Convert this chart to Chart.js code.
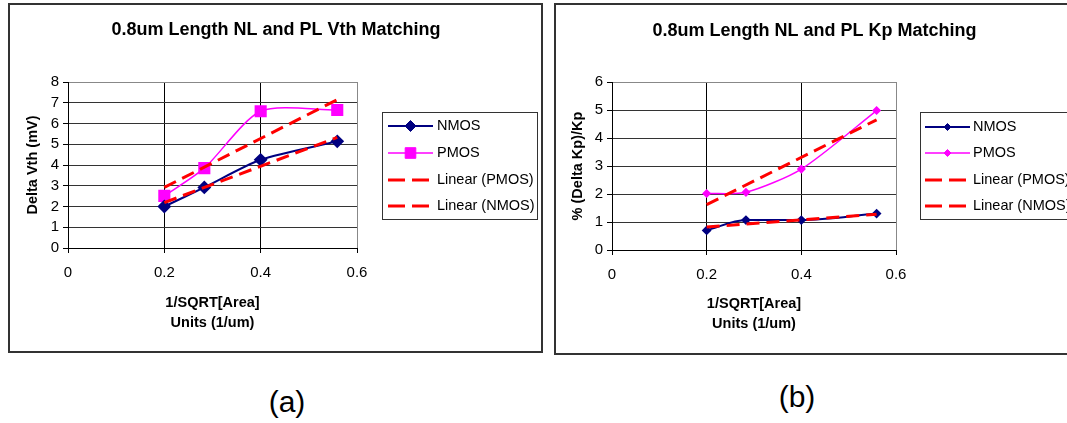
<!DOCTYPE html>
<html>
<head>
<meta charset="utf-8">
<script src="https://cdn.jsdelivr.net/npm/chart.js@4.4.1/dist/chart.umd.min.js"></script>
<style>
  body { margin: 0; width: 1067px; height: 423px; overflow: hidden; background: #fff; position: relative; }
  canvas { position: absolute; top: 0; }
  .cap { position: absolute; width: 80px; text-align: center; font: 30px "Liberation Sans", Arial, sans-serif; line-height: 40px; color: #000; }
</style>
</head>
<body>
<canvas id="chartA" width="548" height="360" style="left:0px"></canvas>
<canvas id="chartB" width="519" height="360" style="left:548px"></canvas>
<div class="cap" style="left:247px; top:382px">(a)</div>
<div class="cap" style="left:757px; top:377px">(b)</div>
<script>
// x = 1/sqrt(area) of the four device sizes
var xArea = [0.2, 0.283, 0.4, 0.559];
var trendX = [0.2, 0.559];

// (a) Vth matching, mV
var vthNmos = [2.0, 2.92, 4.25, 5.14];
var vthPmos = [2.51, 3.85, 6.59, 6.65];
var vthPmosFit = [2.92, 7.15];
var vthNmosFit = [2.19, 5.33];

// (b) Kp matching, %
var kpNmos = [0.70, 1.07, 1.07, 1.30];
var kpPmos = [2.02, 2.06, 2.89, 4.98];
var kpPmosFit = [1.62, 4.65];
var kpNmosFit = [0.82, 1.28];

var seriesLabels = ['NMOS', 'PMOS', 'Linear (PMOS)', 'Linear (NMOS)'];
var xTicks = [0, 0.2, 0.4, 0.6];

Chart.defaults.font.family = '"Liberation Sans", Arial, sans-serif';
Chart.defaults.color = '#000';

function pts(xs, ys) {
    return xs.map(function(x, i) { return { x: x, y: ys[i] }; });
}

var panelBox = {
    id: 'panelBox',
    beforeDraw: function(chart, args, opts) {
        var ctx = chart.ctx;
        ctx.save();
        ctx.fillStyle = '#fff';
        ctx.fillRect(0, 0, chart.width, chart.height);
        ctx.strokeStyle = '#333';
        ctx.lineWidth = 2;
        ctx.strokeRect(opts.left, opts.top, opts.width, opts.height);
        ctx.restore();
    }
};

// legend drawn by hand: line sample with marker in the middle, boxed
var boxLegend = {
    id: 'boxLegend',
    afterDraw: function(chart, args, opts) {
        var ctx = chart.ctx;
        ctx.save();
        ctx.strokeStyle = '#333';
        ctx.lineWidth = 1;
        ctx.strokeRect(opts.left + 0.5, opts.top + 0.5, opts.width, opts.height);
        ctx.font = '14.5px "Liberation Sans", Arial, sans-serif';
        ctx.textBaseline = 'middle';
        chart.data.datasets.forEach(function(ds, i) {
            var y = opts.rows[i];
            ctx.save();
            ctx.strokeStyle = ds.borderColor;
            ctx.lineWidth = ds.borderWidth;
            ctx.setLineDash(ds.borderDash ? [17, 7] : []);
            ctx.beginPath();
            ctx.moveTo(opts.lineStart, y);
            ctx.lineTo(opts.lineEnd, y);
            ctx.stroke();
            ctx.restore();
            if (ds.pointRadius > 0) {
                ctx.fillStyle = ds.pointBackgroundColor;
                ctx.strokeStyle = ds.pointBorderColor;
                ctx.lineWidth = 1;
                Chart.helpers.drawPoint(ctx, { pointStyle: ds.pointStyle, radius: ds.pointRadius, borderWidth: 1, rotation: 0 },
                    (opts.lineStart + opts.lineEnd) / 2, y);
            }
            ctx.fillStyle = '#000';
            ctx.fillText(ds.label, opts.textX, y);
        });
        ctx.restore();
    }
};

function makeDatasets(nmos, pmos, pmosFit, nmosFit, big) {
    return [
        {
            label: seriesLabels[0],
            data: pts(xArea, nmos),
            borderColor: '#000080',
            backgroundColor: '#000080',
            pointBackgroundColor: '#000080',
            pointBorderColor: '#000080',
            borderWidth: 2,
            pointStyle: 'rectRot',
            pointRadius: big ? 5.5 : 3.5,
            tension: 0.25,
            cubicInterpolationMode: big ? 'default' : 'monotone',
            order: 1
        },
        {
            label: seriesLabels[1],
            data: pts(xArea, pmos),
            borderColor: '#FF00FF',
            backgroundColor: '#FF00FF',
            pointBackgroundColor: '#FF00FF',
            pointBorderColor: '#FF00FF',
            borderWidth: 1.5,
            pointStyle: big ? 'rect' : 'rectRot',
            pointRadius: big ? 7.5 : 3.5,
            tension: 0.25,
            order: 1
        },
        {
            label: seriesLabels[2],
            data: pts(trendX, pmosFit),
            borderColor: '#FF0000',
            borderWidth: 3,
            borderDash: [13, 7],
            pointRadius: 0,
            tension: 0,
            order: 0
        },
        {
            label: seriesLabels[3],
            data: pts(trendX, nmosFit),
            borderColor: '#FF0000',
            borderWidth: 3,
            borderDash: [13, 7],
            pointRadius: 0,
            tension: 0,
            order: 0
        }
    ];
}

function makeScales(yMax, yTitle, yTitlePad, xTitlePad, rightWidth) {
    return {
        x: {
            type: 'linear',
            min: xTicks[0],
            max: xTicks[xTicks.length - 1],
            afterBuildTicks: function(s) { s.ticks = xTicks.map(function(v) { return { value: v }; }); },
            ticks: { font: { size: 15 }, padding: 11, color: '#000', autoSkip: false, maxRotation: 0 },
            grid: {
                color: function(c) { return c.index === xTicks.length - 1 ? '#888' : '#000'; },
                tickColor: '#000',
                tickLength: 5
            },
            border: { color: '#000' },
            title: {
                display: true,
                text: ['1/SQRT[Area]', 'Units (1/um)'],
                font: { size: 14.5, weight: 'bold', lineHeight: 1.38 },
                color: '#000',
                padding: { top: 0, bottom: xTitlePad }
            },
            afterFit: function(s) { s.height = 86; }
        },
        y: {
            min: 0,
            max: yMax,
            ticks: { stepSize: 1, font: { size: 15 }, padding: 4, color: '#000', autoSkip: false },
            grid: {
                color: function(c) { return c.tick && c.tick.value === yMax ? '#888' : '#333'; },
                tickColor: '#000',
                tickLength: 5
            },
            border: { color: '#000' },
            title: {
                display: true,
                text: yTitle,
                font: { size: 14.5, weight: 'bold' },
                color: '#000',
                padding: { top: yTitlePad, bottom: 0 }
            },
            afterFit: function(s) { s.width = 50; }
        },
        side: {
            position: 'right',
            grid: { display: false, drawTicks: false },
            ticks: { display: false },
            border: { display: false },
            afterFit: function(s) { s.width = rightWidth; }
        }
    };
}

new Chart(document.getElementById('chartA'), {
    type: 'line',
    data: { datasets: makeDatasets(vthNmos, vthPmos, vthPmosFit, vthNmosFit, true) },
    options: {
        responsive: false,
        animation: false,
        layout: { padding: { left: 18, right: 14, top: 10, bottom: 26 } },
        scales: makeScales(8, 'Delta Vth (mV)', 6.3, 1, 177),
        plugins: {
            legend: { display: false },
            tooltip: { enabled: false },
            title: {
                display: true,
                text: '0.8um Length NL and PL Vth Matching',
                font: { size: 18, weight: 'bold' },
                color: '#000',
                padding: { top: 9.2, bottom: 41.2 }
            },
            panelBox: { left: 9, top: 4, width: 533, height: 348 },
            boxLegend: { left: 382, top: 112, width: 155, height: 107, rows: [126, 153, 180, 206], lineStart: 388, lineEnd: 433, textX: 437 }
        }
    },
    plugins: [panelBox, boxLegend]
});

new Chart(document.getElementById('chartB'), {
    type: 'line',
    data: { datasets: makeDatasets(kpNmos, kpPmos, kpPmosFit, kpNmosFit, false) },
    options: {
        responsive: false,
        animation: false,
        layout: { padding: { left: 14, right: 0, top: 10, bottom: 24 } },
        scales: makeScales(6, '% (Delta Kp)/Kp', 7.3, 2, 171),
        plugins: {
            legend: { display: false },
            tooltip: { enabled: false },
            title: {
                display: true,
                text: '0.8um Length NL and PL Kp Matching',
                font: { size: 18, weight: 'bold' },
                color: '#000',
                padding: { top: 10.2, bottom: 40.2 }
            },
            panelBox: { left: 7, top: 4, width: 530, height: 350 },
            boxLegend: { left: 372, top: 112, width: 160, height: 107, rows: [127, 153, 180, 206], lineStart: 377, lineEnd: 422, textX: 425 }
        }
    },
    plugins: [panelBox, boxLegend]
});
</script>
</body>
</html>
